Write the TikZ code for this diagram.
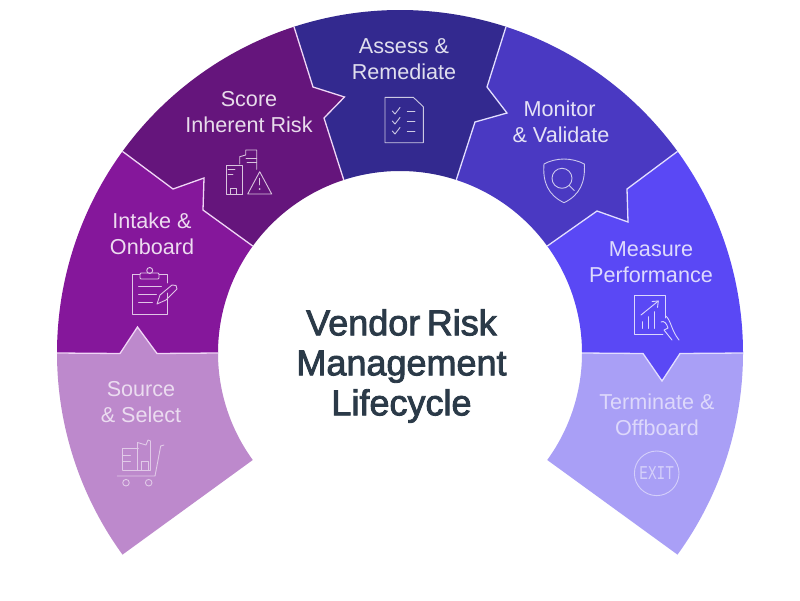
\documentclass[tikz,border=0pt]{standalone}
\usepackage{fontspec}
\setmainfont{Liberation Sans}
\newfontfamily\titlefont[FakeBold=2.4,WordSpace=0.65]{Liberation Sans}
\newfontfamily\exitfont{Liberation Mono}
\definecolor{cSource}{HTML}{BD89CC}
\definecolor{cIntake}{HTML}{85179B}
\definecolor{cScore}{HTML}{65157C}
\definecolor{cAssess}{HTML}{33298F}
\definecolor{cMonitor}{HTML}{4A39C2}
\definecolor{cMeasure}{HTML}{5A48F5}
\definecolor{cTerm}{HTML}{A99FF6}
\definecolor{pinkline}{HTML}{F0D6F6}
\definecolor{lavline}{HTML}{E2DEFF}
\definecolor{titlecol}{HTML}{2B3A48}
\tikzset{
  seglabel/.style={align=center,inner sep=0pt,font=\fontsize{21.6}{26}\selectfont},
  divider/.style={line width=1.3pt,line join=miter},
  icon/.style={line width=0.9pt,line cap=round,line join=round},
}
\begin{document}
\begin{tikzpicture}[x=1pt,y=-1pt]
\useasboundingbox (0,0) rectangle (800,600);
\fill[white] (0,0) rectangle (800,600);
\coordinate (c) at (400,353);
\foreach \a/\n in {216/a,180/b,144/c,108/d,72/e,36/f,0/g,-36/h}{
  \coordinate (o\n) at ([shift={(\a:343pt)}]c);
  \coordinate (i\n) at ([shift={(\a:182pt)}]c);
}
% notch points
\coordinate (n1) at (120,353.5); \coordinate (n2) at (137.5,327); \coordinate (n3) at (157,353.5);
\coordinate (s1) at (173,189); \coordinate (s2) at (204,178); \coordinate (s3) at (203,210);
\coordinate (t1) at (313,87); \coordinate (t2) at (344.5,97); \coordinate (t3) at (324,118);
\coordinate (u1) at (487,87); \coordinate (u2) at (507,113); \coordinate (u3) at (475,122);
\coordinate (v1) at (627,189); \coordinate (v2) at (628,222); \coordinate (v3) at (597,211);
\coordinate (w1) at (680,353.5); \coordinate (w2) at (662,381); \coordinate (w3) at (643,353.5);
% segments
\fill[cSource] (ob) arc[start angle=180,end angle=216,radius=343pt] -- (ia)
  arc[start angle=216,end angle=180,radius=182pt] -- (n3) -- (n2) -- (n1) -- cycle;
\fill[cIntake] (oc) arc[start angle=144,end angle=180,radius=343pt] -- (n1) -- (n2) -- (n3) -- (ib)
  arc[start angle=180,end angle=144,radius=182pt] -- (s3) -- (s2) -- (s1) -- cycle;
\fill[cScore] (od) arc[start angle=108,end angle=144,radius=343pt] -- (s1) -- (s2) -- (s3) -- (ic)
  arc[start angle=144,end angle=108,radius=182pt] -- (t3) -- (t2) -- (t1) -- cycle;
\fill[cAssess] (oe) arc[start angle=72,end angle=108,radius=343pt] -- (t1) -- (t2) -- (t3) -- (id)
  arc[start angle=108,end angle=72,radius=182pt] -- (u3) -- (u2) -- (u1) -- cycle;
\fill[cMonitor] (of) arc[start angle=36,end angle=72,radius=343pt] -- (u1) -- (u2) -- (u3) -- (ie)
  arc[start angle=72,end angle=36,radius=182pt] -- (v3) -- (v2) -- (v1) -- cycle;
\fill[cMeasure] (og) arc[start angle=0,end angle=36,radius=343pt] -- (v1) -- (v2) -- (v3) -- (if)
  arc[start angle=36,end angle=0,radius=182pt] -- (w3) -- (w2) -- (w1) -- cycle;
\fill[cTerm] (oh) arc[start angle=-36,end angle=0,radius=343pt] -- (w1) -- (w2) -- (w3) -- (ig)
  arc[start angle=0,end angle=-36,radius=182pt] -- cycle;
% dividers
\draw[divider,pinkline] (ob) -- (n1) -- (n2) -- (n3) -- (ib);
\draw[divider,pinkline] (oc) -- (s1) -- (s2) -- (s3) -- (ic);
\draw[divider,pinkline] (od) -- (t1) -- (t2) -- (t3) -- (id);
\draw[divider,lavline] (oe) -- (u1) -- (u2) -- (u3) -- (ie);
\draw[divider,lavline] (of) -- (v1) -- (v2) -- (v3) -- (if);
\draw[divider,lavline] (og) -- (w1) -- (w2) -- (w3) -- (ig);
% labels
\node[seglabel,text=white!85!cAssess] (assess) at (404,59.5) {Assess \&\\Remediate};
\node[seglabel,text=white!85!cScore] (score) at (249,112) {Score\\Inherent Risk};
\node[seglabel,text=white!85!cMonitor,align=left] (monitor) at (561,122) {\hspace*{11pt}Monitor\\\& Validate};
\node[seglabel,text=white!85!cIntake] (intake) at (152,234) {Intake \&\\Onboard};
\node[seglabel,text=white!80!cMeasure] (measure) at (651,262) {Measure\\Performance};
\node[seglabel,text=white!70!cSource] (source) at (141,402) {Source\\\& Select};
\node[seglabel,text=white!60!cTerm] (term) at (657,415) {Terminate \&\\Offboard};
\node[align=center,inner sep=0pt,text=titlecol,font=\titlefont\fontsize{36}{40}\selectfont] (title) at (401.5,366) {Vendor Risk\\Management\\Lifecycle};
% clipboard icon
\begin{scope}[icon,draw=white!75!cIntake]
\draw (140,274.5) -- (132.5,274.5) -- (132.5,314) -- (167.5,314) -- (167.5,293);
\draw (167.5,283) -- (167.5,274.5) -- (159,274.5);
\draw[rounded corners=1pt] (140,273) rectangle (159,279);
\draw (149.7,270.5) circle[radius=3pt];
\draw (138.5,286.7) -- (161.5,286.7);
\draw (138.5,294.3) -- (156.5,294.3);
\draw (138.5,302.3) -- (152.5,302.3);
\draw (157,304) -- (160,295) -- (172,285) -- (176,285.5) -- (177,289) -- (166,300) -- cycle;
\end{scope}
% buildings + warning icon
\begin{scope}[icon,draw=white!75!cScore]
\draw (242.7,194) -- (226.7,194) -- (226.7,165) -- (242.7,165) -- (242.7,194);
\draw (230,194) -- (230,188.3) -- (236.7,188.3) -- (236.7,194);
\draw (228,169.5) -- (235,169.5);
\draw (228,174.5) -- (233,174.5);
\draw (239.7,164) -- (239.7,156.7) -- (245.7,155) -- (245.7,150) -- (256.7,150) -- (256.7,169.3);
\draw (246,158.3) -- (256.7,158.3);
\draw (247,162.7) -- (256.7,162.7);
\draw (259.7,171.7) -- (271.7,194) -- (247.7,194) -- cycle;
\draw (259.7,178.3) -- (259.7,185);
\fill[white!75!cScore] (259.7,189) circle[radius=1pt];
\end{scope}
% checklist icon
\begin{scope}[icon,draw=white!75!cAssess]
\draw (385,97.3) -- (413.3,97.3) -- (423.3,106.7) -- (423.3,142.7) -- (385,142.7) -- cycle;
\foreach \y in {111,121,131}{
  \draw (392.3,\y) -- (395,\y+3) -- (400,\y-3.5);
  \draw (407.3,\y) -- (415,\y);
}
\end{scope}
% shield icon
\begin{scope}[icon,draw=white!72!cMonitor]
\draw (564,159) .. controls (571,159) and (579,161) .. (584.3,164)
  .. controls (585.5,182) and (580,195) .. (564,202.7)
  .. controls (548,195) and (542.5,182) .. (544,164)
  .. controls (549,161) and (557,159) .. (564,159) -- cycle;
\draw (562,178.3) circle[radius=10pt];
\draw (569.3,185.5) -- (574.3,190.5);
\end{scope}
% chart + hand icon
\begin{scope}[icon,draw=white!78!cMeasure]
\draw (665.7,318) -- (665.7,295) -- (634.3,295) -- (634.3,334) -- (663,334);
\draw (642.3,328.3) -- (642.3,321.7);
\draw (648.3,328.3) -- (648.3,316.7);
\draw (654,328.3) -- (654,311.7);
\draw (641,315) -- (658.3,301);
\draw (652,301.5) -- (658.3,301) -- (657.5,307.5);
\draw (665.7,316) .. controls (671,320) and (671,330) .. (679,340);
\draw (661,322) .. controls (664,320) and (667,324) .. (668,328) -- (664,330) -- (672,340);
\end{scope}
% exit icon
\draw[icon,draw=white!50!cTerm] (656.7,473.3) circle[radius=22.3pt];
\node[inner sep=0pt,text=white!50!cTerm,yscale=1.35,font=\exitfont\fontsize{14.5}{16}\selectfont] (exit) at (656.7,473.3) {EXIT};
% cart icon
\begin{scope}[icon,draw=white!55!cSource]
\draw (122.7,470) -- (122.7,448.3) -- (138.3,448.3);
\draw (122.7,455) -- (130.5,455);
\draw (122.7,461.7) -- (130.5,461.7);
\draw (122.7,470) -- (150.5,470);
\draw (137.5,470) -- (137.5,442.5) -- (146,445) -- (148,440) -- (150.5,441) -- (150.5,470);
\draw (141.5,470) -- (141.5,461.7) -- (148.3,461.7) -- (148.3,470);
\draw (164,445) -- (160.7,446) -- (155,476) -- (117.3,476);
\draw (126,482.7) circle[radius=3.3pt];
\draw (148.7,482.7) circle[radius=3.3pt];
\end{scope}
\end{tikzpicture}
\end{document}
